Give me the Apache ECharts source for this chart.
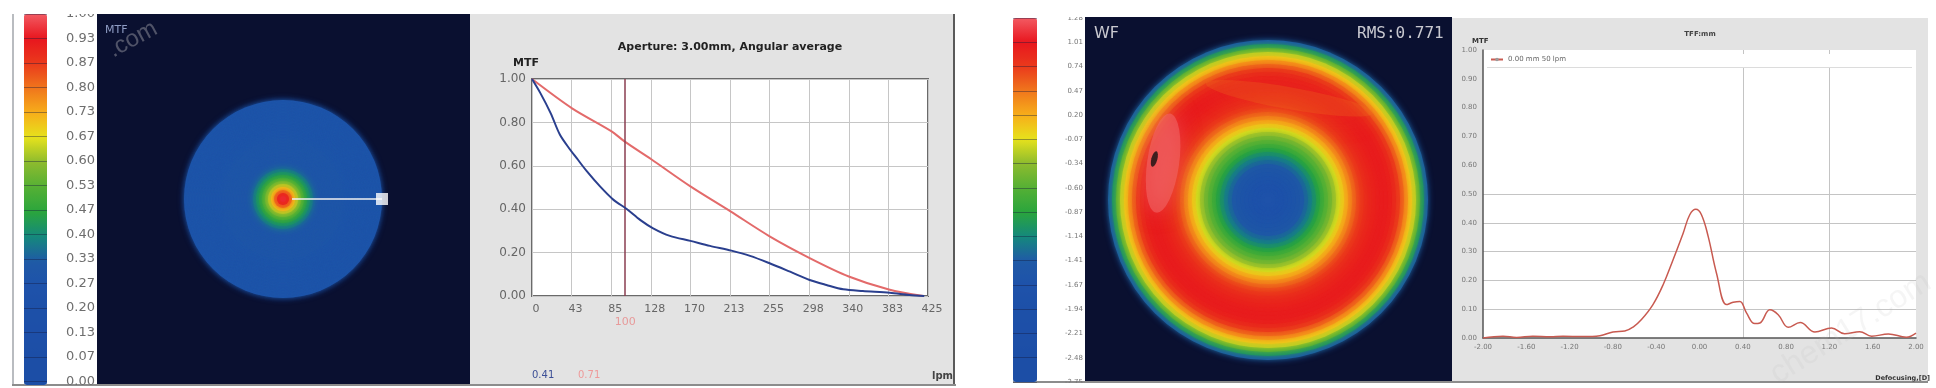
<!DOCTYPE html>
<html>
<head>
<meta charset="utf-8">
<style>
html, body { margin: 0; padding: 0; background: #fff; }
#chart { width: 1936px; height: 388px; filter: blur(0.7px); }
</style>
<script src="https://cdn.jsdelivr.net/npm/echarts@6/dist/echarts.min.js"></script>
</head>
<body>
<div id="chart"></div>
<script>
// colour bars
const mtfBarLabels = ['0.00','0.07','0.13','0.20','0.27','0.33','0.40','0.47','0.53','0.60','0.67','0.73','0.80','0.87','0.93','1.00'];
const wfBarLabels = ['-2.75','-2.48','-2.21','-1.94','-1.67','-1.41','-1.14','-0.87','-0.60','-0.34','-0.07','0.20','0.47','0.74','1.01','1.28'];
const barColors = ['#1c4ea6','#1c4ea6','#1d4fa8','#1d50a8','#1e52aa','#1f5aa6','#15897c','#2aa53c','#55b035','#8dbb2e','#e6e21c','#f7ae1a','#f0761c','#ea3a1c','#e8161e','#f25a62'];

// disc profiles, centre to rim
const mtfRings = [0.95,0.90,0.80,0.70,0.62,0.55,0.50,0.45,0.41,0.37,0.33,0.31,0.30,0.30,0.30,0.30,0.30,0.30,0.30,0.30,0.29,0.29,0.29,0.29,0.29,0.29,0.29,0.29,0.29,0.29,0.29,0.29,0.29];
const wfRings = [-1.70,-1.70,-1.68,-1.66,-1.63,-1.60,-1.56,-1.50,-1.42,-1.30,-1.18,-1.02,-0.86,-0.70,-0.56,-0.42,-0.26,-0.10,0.10,0.28,0.45,0.60,0.72,0.80,0.86,0.90,0.93,0.95,0.96,0.95,0.92,0.84,0.72,0.52,0.30,0.05,-0.20,-0.62,-1.05,-1.45];

// MTF curves
const mtfTicks = ['0','43','85','128','170','213','255','298','340','383','425'];
const mtfBlue = [[0,1],[9,0.935],[20,0.843],[30,0.743],[41,0.674],[48,0.635],[59,0.574],[73,0.505],[87.5,0.443],[102,0.40],[116,0.351],[130,0.312],[148,0.277],[170,0.254],[191,0.231],[214,0.209],[234,0.185],[255,0.151],[277,0.112],[298,0.074],[316,0.051],[334,0.031],[355,0.023],[384,0.015],[405,0.005],[421,0]];
const mtfRed = [[0,1],[43,0.865],[85,0.76],[100,0.71],[128,0.63],[170,0.505],[213,0.39],[255,0.275],[298,0.175],[340,0.09],[383,0.03],[420,0]];
const mtfCursor = 100;
const mtfCursorValues = ['0.41','0.71'];

// through focus curve
const focusXTicks = ['-2.00','-1.60','-1.20','-0.80','-0.40','0.00','0.40','0.80','1.20','1.60','2.00'];
const focusYTicks = ['0.00','0.10','0.20','0.30','0.40','0.50','0.60','0.70','0.80','0.90','1.00'];
const focusCurve = [[-2,0],[-1.815,0.006],[-1.69,0.002],[-1.54,0.006],[-1.38,0.004],[-1.26,0.006],[-1.08,0.005],[-0.92,0.008],[-0.8,0.021],[-0.69,0.024],[-0.613,0.038],[-0.536,0.064],[-0.43,0.116],[-0.336,0.185],[-0.244,0.272],[-0.151,0.364],[-0.09,0.428],[-0.034,0.447],[0.018,0.428],[0.08,0.353],[0.157,0.225],[0.25,0.116],[0.311,0.124],[0.373,0.127],[0.434,0.087],[0.51,0.05],[0.558,0.052],[0.65,0.098],[0.727,0.081],[0.82,0.037],[0.93,0.054],[1.066,0.021],[1.22,0.035],[1.34,0.015],[1.48,0.022],[1.59,0.006],[1.745,0.014],[1.91,0.003],[2,0.017]];

const font = 'DejaVu Sans';
const myChart = echarts.init(document.getElementById('chart'));

// outer rings are painted first, each ring is a full disc with a soft edge
const ringData = (rings) => rings.map((v, i) => [i, 0, v]).reverse();
const renderRing = (params, api) => {
    const c = params.coordSys;
    const p = api.coord([api.value(0) + 1, 0]);
    const color = api.visual('color');
    return {
        type: 'sector',
        shape: { cx: c.cx, cy: c.cy, r0: 0, r: Math.hypot(p[0] - c.cx, p[1] - c.cy), startAngle: 0, endAngle: Math.PI * 2 },
        style: { fill: color, shadowBlur: 6, shadowColor: color }
    };
};
const ellipse = 'path://M0 50A50 50 0 1 1 100 50A50 50 0 1 1 0 50Z';

const rect = (x, y, width, height, fill, z) => ({ type: 'rect', shape: { x, y, width, height }, style: { fill }, z: z || -10, silent: true });
const text = (x, y, str, fontSize, fill, extra, rotation) => ({
    type: 'text', x, y, z: 60, silent: true, rotation: rotation || 0,
    style: Object.assign({ text: str, fontSize, fill, fontFamily: font, textVerticalAlign: 'middle' }, extra || {})
});
const barAxis = (gridIndex, labels, fontSize, color, margin) => ({
    type: 'category', gridIndex, data: labels, boundaryGap: false, position: 'right', z: 6,
    axisLine: { show: false }, axisTick: { show: false },
    axisLabel: { fontSize, color, fontFamily: font, margin, interval: 0, align: 'right' },
    splitLine: { show: true, interval: 0, lineStyle: { color: 'rgba(20,25,60,0.4)', width: 1 } }
});
const barX = (gridIndex) => ({ type: 'value', gridIndex, show: false });

const option = {
    animation: false,
    backgroundColor: '#fff',
    graphic: { elements: [
        // left window
        rect(12, 14, 2, 371, '#b9bcc0'),
        rect(97, 14, 373, 371, '#0a1030'),
        rect(470, 14, 483, 371, '#e3e3e3'),
        rect(953, 14, 2, 371, '#5a5a5a'),
        rect(12, 384, 944, 2, '#8c8c8c'),
        // right window
        rect(1085, 17, 367, 365, '#0a1030'),
        rect(1452, 18, 476, 364, '#e3e3e3'),
        rect(1013, 381, 915, 2, '#8c8c8c'),
        rect(1487, 54, 425, 13, '#ffffff', 1),
        rect(1487, 67, 425, 1, '#dcdcdc', 1),
        // clips colour bar labels at window edges
        rect(50, 0, 47, 14, '#fff', 50),
        rect(50, 386, 47, 2, '#fff', 50),
        rect(1040, 0, 45, 17, '#fff', 50),
        rect(1040, 383, 45, 5, '#fff', 50),
        text(105, 30, 'MTF', 11, '#8f9dc4'),
        text(1094, 34, 'WF', 16, '#c9c9d0'),
        text(1357, 34, 'RMS:0.771', 16, '#c9c9d0', { fontFamily: 'DejaVu Sans Mono' }),
        text(730, 47, 'Aperture: 3.00mm, Angular average', 11, '#222', { textAlign: 'center', fontWeight: 'bold' }),
        text(513, 63, 'MTF', 11, '#222', { fontWeight: 'bold' }),
        text(932, 376, 'lpm', 10, '#444', { fontWeight: 'bold' }),
        text(532, 375, mtfCursorValues[0], 10, '#3c4f96'),
        text(578, 375, mtfCursorValues[1], 10, '#ee9a9a'),
        text(1700, 34, 'TFF:mm', 7, '#444', { textAlign: 'center', fontWeight: 'bold' }),
        text(1472, 41, 'MTF', 7, '#333', { fontWeight: 'bold' }),
        text(1930, 378, 'Defocusing,[D]', 6.5, '#333', { textAlign: 'right', fontWeight: 'bold' }),
        // watermark
        text(110, 52, '.com', 24, 'rgba(150,150,160,0.5)', { fontFamily: 'Liberation Sans' }, 0.5),
        text(1773, 377, 'chem17.com', 32, 'rgba(190,190,190,0.15)', { fontFamily: 'Liberation Sans' }, 0.56)
    ]},
    grid: [
        { left: 532, top: 79, width: 396, height: 217, show: true, backgroundColor: '#fff', borderColor: '#6a6a6a', borderWidth: 2 },
        { left: 1483, top: 50, width: 433, height: 288, show: true, backgroundColor: '#fff', borderWidth: 0 },
        { left: 24, top: 14, width: 23, height: 371 },
        { left: 1013, top: 18, width: 24, height: 364 }
    ],
    xAxis: [
        { type: 'value', gridIndex: 0, min: 0, max: 425, interval: 42.5,
          axisLine: { show: false }, axisTick: { show: false },
          axisLabel: { color: '#666', fontSize: 11, fontFamily: font, margin: 8, padding: [0, 0, 0, 8], formatter: (v, i) => mtfTicks[i] },
          splitLine: { show: true, lineStyle: { color: '#c6c6c6' } } },
        { type: 'value', gridIndex: 1, min: -2, max: 2, interval: 0.4,
          axisLine: { show: true, onZero: false, lineStyle: { color: '#555', width: 1.5 } }, axisTick: { show: false },
          axisLabel: { color: '#777', fontSize: 7, fontFamily: font, margin: 6, formatter: (v, i) => focusXTicks[i] },
          splitLine: { show: true, lineStyle: { color: ['transparent','transparent','transparent','transparent','transparent','transparent','#c4c4c4','transparent','#c4c4c4','transparent','transparent'] } } },
        barX(2),
        barX(3)
    ],
    yAxis: [
        { type: 'value', gridIndex: 0, min: 0, max: 1, interval: 0.2,
          axisLine: { show: false }, axisTick: { show: false },
          axisLabel: { color: '#666', fontSize: 12, fontFamily: font, margin: 6, formatter: (v) => v.toFixed(2) },
          splitLine: { show: true, lineStyle: { color: '#c6c6c6' } } },
        { type: 'value', gridIndex: 1, min: 0, max: 1, interval: 0.1,
          axisLine: { show: true, onZero: false, lineStyle: { color: '#555', width: 1.5 } }, axisTick: { show: false },
          axisLabel: { color: '#777', fontSize: 7, fontFamily: font, margin: 6, formatter: (v, i) => focusYTicks[i] },
          splitLine: { show: true, lineStyle: { color: ['transparent','#c4c4c4','#c4c4c4','#c4c4c4','#c4c4c4','#c4c4c4','transparent','transparent','transparent','transparent','transparent'] } } },
        barAxis(2, mtfBarLabels, 13, '#6e6e6e', 48),
        barAxis(3, wfBarLabels, 7, '#777', 46)
    ],
    polar: [
        { center: [283, 199], radius: 99 },
        { center: [1268, 200], radius: 160 }
    ],
    radiusAxis: [
        { polarIndex: 0, min: 0, max: mtfRings.length, show: false },
        { polarIndex: 1, min: 0, max: wfRings.length, show: false }
    ],
    angleAxis: [
        { polarIndex: 0, min: 0, max: 360, startAngle: 0, clockwise: false, show: false },
        { polarIndex: 1, min: 0, max: 360, startAngle: 0, clockwise: false, show: false }
    ],
    visualMap: [
        { type: 'continuous', seriesIndex: 0, dimension: 2, min: 0, max: 1, left: 24, top: 14, itemWidth: 23, itemHeight: 371, padding: 0, text: ['', ''], showLabel: false, calculable: false, hoverLink: false, inRange: { color: barColors } },
        { type: 'continuous', seriesIndex: 1, dimension: 2, min: -2.75, max: 1.28, left: 1013, top: 18, itemWidth: 24, itemHeight: 364, padding: 0, text: ['', ''], showLabel: false, calculable: false, hoverLink: false, inRange: { color: barColors } }
    ],
    legend: {
        left: 1490, top: 56, padding: 0, itemWidth: 12, itemHeight: 2, z: 6,
        data: ['0.00 mm 50 lpm'], textStyle: { fontSize: 7, color: '#666', fontFamily: font }
    },
    series: [
        { type: 'custom', coordinateSystem: 'polar', polarIndex: 0, renderItem: renderRing, data: ringData(mtfRings), silent: true, z: 2 },
        { type: 'custom', coordinateSystem: 'polar', polarIndex: 1, renderItem: renderRing, data: ringData(wfRings), silent: true, z: 2 },
        // pointer from the centre of the MTF disc
        { type: 'line', coordinateSystem: 'polar', polarIndex: 0, data: [[3, 0], [mtfRings.length, 0]], showSymbol: false, lineStyle: { color: '#f0f0f0', width: 1.5 }, z: 3, silent: true },
        { type: 'scatter', coordinateSystem: 'polar', polarIndex: 0, data: [[mtfRings.length, 0]], symbol: 'rect', symbolSize: 12, itemStyle: { color: '#fff' }, z: 4, silent: true },
        // weaker, orange part of the wavefront ring at the top
        { type: 'scatter', coordinateSystem: 'polar', polarIndex: 1, data: [[26, 78]], symbol: ellipse, symbolKeepAspect: false, symbolSize: [170, 22], symbolRotate: -10,
          itemStyle: { color: 'rgba(240,118,28,0.3)', shadowBlur: 30, shadowColor: 'rgba(240,118,28,0.65)' }, z: 3, silent: true },
        // hot patch and dead spot on the wavefront
        { type: 'scatter', coordinateSystem: 'polar', polarIndex: 1, data: [[27.8, 160.6]], symbol: ellipse, symbolKeepAspect: false, symbolSize: [32, 100], symbolRotate: -8,
          itemStyle: { color: 'rgba(240,105,105,0.7)', shadowBlur: 20, shadowColor: 'rgba(240,105,105,0.9)' }, z: 4, silent: true },
        { type: 'scatter', coordinateSystem: 'polar', polarIndex: 1, data: [[30.2, 160.2]], symbol: ellipse, symbolKeepAspect: false, symbolSize: [6, 16], symbolRotate: -15, itemStyle: { color: '#111' }, z: 5, silent: true },
        // MTF curves
        { type: 'line', xAxisIndex: 0, yAxisIndex: 0, data: mtfRed, smooth: 0.3, showSymbol: false, lineStyle: { color: '#e36a6a', width: 2 }, z: 4, silent: true,
          markLine: { silent: true, symbol: 'none', data: [{ xAxis: mtfCursor }], lineStyle: { color: '#8a3e50', width: 1.5, type: 'solid' },
            label: { position: 'start', distance: 21, color: '#e79a9a', fontSize: 11, fontFamily: font, formatter: String(mtfCursor) } } },
        { type: 'line', xAxisIndex: 0, yAxisIndex: 0, data: mtfBlue, smooth: 0.3, showSymbol: false, lineStyle: { color: '#2a3f8e', width: 2 }, z: 5, silent: true },
        // through focus
        { type: 'line', name: '0.00 mm 50 lpm', xAxisIndex: 1, yAxisIndex: 1, data: focusCurve, smooth: 0.4, showSymbol: false, lineStyle: { color: '#c85a50', width: 1.5 }, itemStyle: { color: '#999' }, z: 4, silent: true },
        // colour bar frames carry the axes
        { type: 'line', xAxisIndex: 2, yAxisIndex: 2, data: [], silent: true },
        { type: 'line', xAxisIndex: 3, yAxisIndex: 3, data: [], silent: true }
    ]
};
myChart.setOption(option);
</script>
</body>
</html>
